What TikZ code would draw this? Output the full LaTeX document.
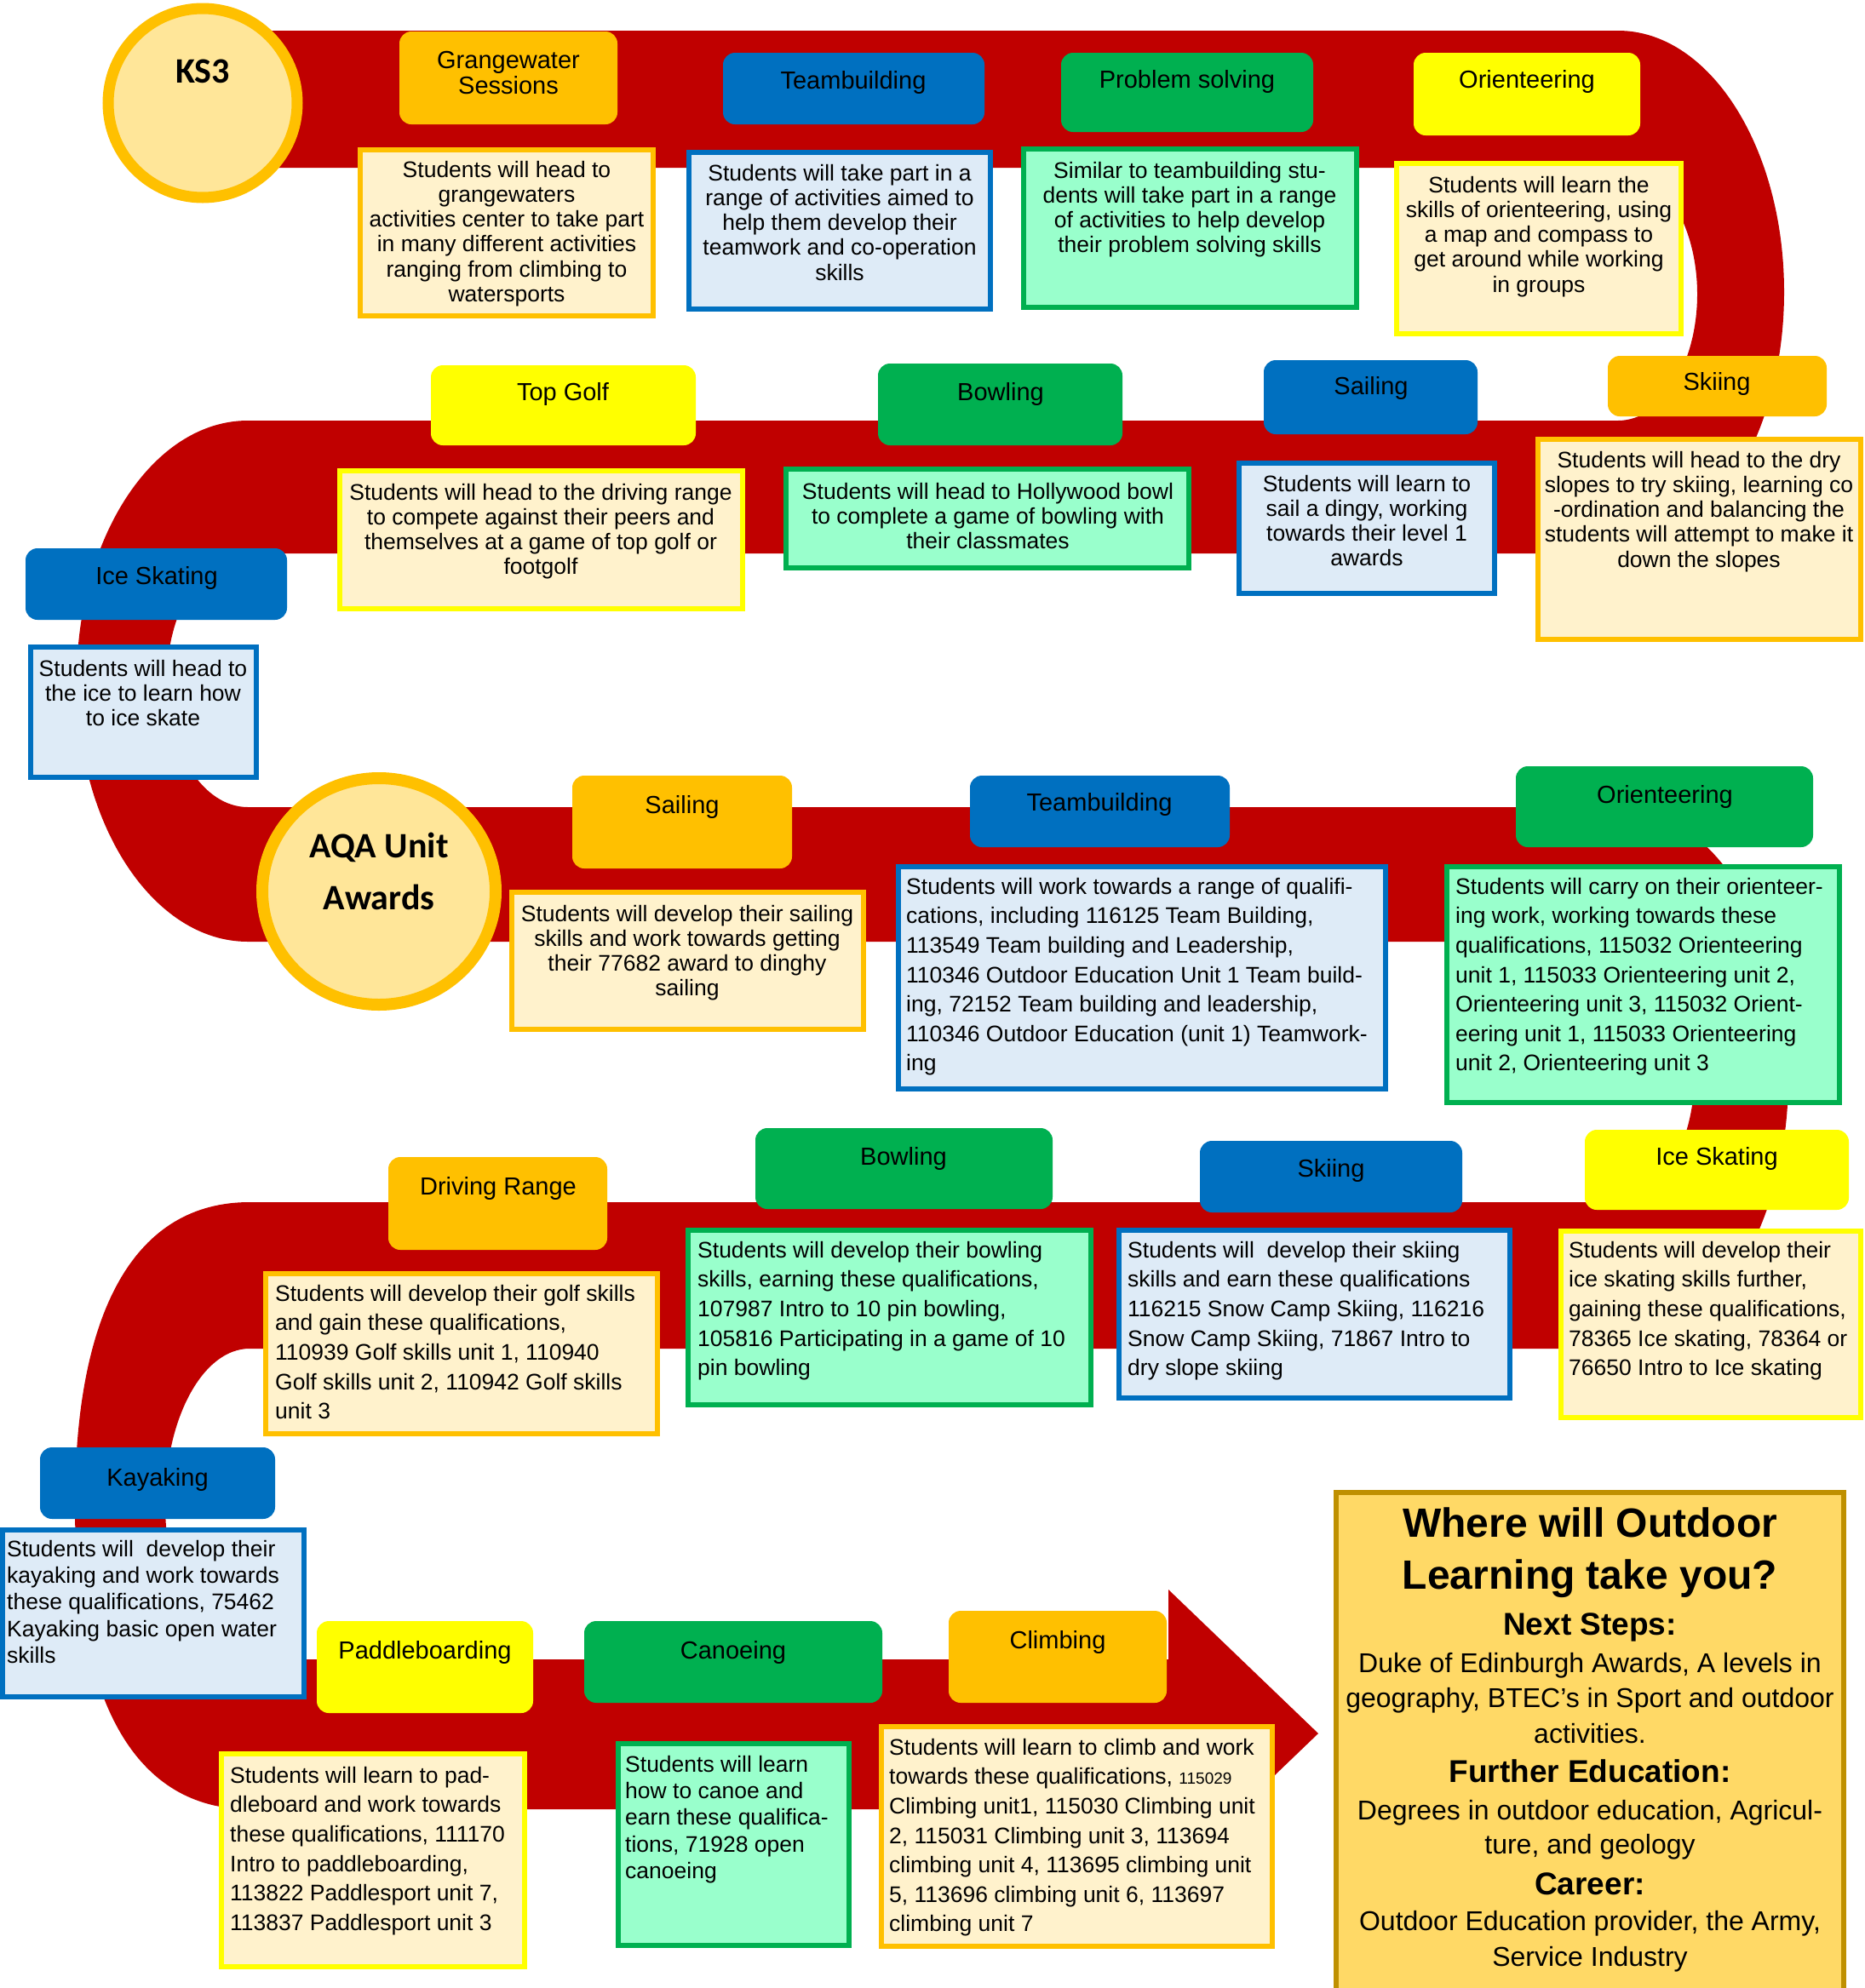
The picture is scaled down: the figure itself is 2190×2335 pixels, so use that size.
\documentclass[tikz,border=0pt]{standalone}
\usepackage{fontspec}
\setmainfont{Liberation Sans}
\newfontfamily\calib{Carlito}
\definecolor{road}{HTML}{C00000}
\definecolor{cOr}{HTML}{FFC000}
\definecolor{cBl}{HTML}{0070C0}
\definecolor{cGr}{HTML}{00B050}
\definecolor{cYe}{HTML}{FFFF00}
\definecolor{lOr}{HTML}{FFF2CC}
\definecolor{lBl}{HTML}{DEEBF7}
\definecolor{lGr}{HTML}{99FFCC}
\definecolor{circ}{HTML}{FFE699}
\definecolor{finF}{HTML}{FFD966}
\definecolor{finB}{HTML}{BF9000}
\newcommand\fl{\rule{0pt}{22pt}}
\newcommand\hl{\rule{0pt}{24pt}}
\begin{document}
\begin{tikzpicture}[x=1pt,y=-1pt,
  hdr/.style={rounded corners=14pt},
  dbox/.style={line width=6pt},
  htext/.style={anchor=north, inner sep=0pt, align=center, font=\fontsize{29}{30}\selectfont},
  ctext/.style={anchor=north, inner sep=0pt, align=center, font=\fontsize{26.5}{29.2}\selectfont},
  ltext/.style={anchor=north west, inner sep=0pt, align=left, font=\fontsize{26.5}{34.6}\selectfont},
  ltextb/.style={anchor=north west, inner sep=0pt, align=left, font=\fontsize{26.5}{31.3}\selectfont},
  fbig/.style={anchor=base, inner sep=0pt, font=\fontsize{48}{60}\selectfont\bfseries},
  fmid/.style={anchor=base, inner sep=0pt, font=\fontsize{37}{44}\selectfont\bfseries},
  fnorm/.style={anchor=base, inner sep=0pt, font=\fontsize{32}{40}\selectfont},
  circt/.style={anchor=base, inner sep=0pt, font=\fontsize{42}{50}\selectfont\calib\bfseries},
]
\useasboundingbox (0,0) rectangle (2190,2335);
\fill[white] (0,0) rectangle (2190,2335);
\clip (0,0) rectangle (2190,2335);

% ---------------- road ----------------
\fill[road] (238,36) -- (1900,36) arc[start angle=90,end angle=-90,x radius=195pt,y radius=307pt]
  -- (1900,494) arc[start angle=-90,end angle=90,x radius=93pt,y radius=148.5pt] -- (238,197) -- cycle;
\fill[road] (1900,494) -- (291,494) arc[start angle=90,end angle=270,x radius=201pt,y radius=306pt]
  -- (1900,1106) -- (1900,948) -- (291,948) arc[start angle=270,end angle=90,x radius=95pt,y radius=149pt]
  -- (1900,650) -- cycle;
\fill[road] (1900,948) arc[start angle=90,end angle=-90,x radius=200pt,y radius=318pt]
  -- (293,1584) -- (293,1412) -- (1900,1412) arc[start angle=-90,end angle=90,x radius=90pt,y radius=153pt] -- cycle;
\fill[road] (293,1412) .. controls (160,1412) and (88,1536.5) .. (88,1768.5)
  .. controls (88,2000.5) and (160,2125) .. (293,2125)
  -- (1372,2125) -- (1372,2205) -- (1548,2036) -- (1372,1867) -- (1372,1949)
  -- (293,1949) arc[start angle=270,end angle=90,x radius=99pt,y radius=182.5pt] -- cycle;

% ---------------- circles ----------------
\draw[line width=13pt, draw=cOr, fill=circ] (238,121) circle[radius=111pt];
\node[circt] (ks3) at (238,97) {KS3};
\draw[line width=14pt, draw=cOr, fill=circ] (445,1047) ellipse[x radius=137pt, y radius=133pt];
\node[circt] (aqa1) at (445,1007) {AQA Unit};
\node[circt] (aqa2) at (445,1068) {Awards};

% ---------------- row 1 ----------------
\fill[cOr,hdr] (469,37) rectangle (725,146);
\node[htext] (h1) at (597,56) {\hl Grangewater\\Sessions};
\draw[dbox,draw=cOr,fill=lOr] (423,176) rectangle (767,371);
\node[ctext] (d1) at (595,186) {\fl Students will head to\\grangewaters\\activities center to take part\\in many different activities\\ranging from climbing to\\watersports};

\fill[cBl,hdr] (849,62) rectangle (1156,146);
\node[htext] (h2) at (1002,80) {\hl Teambuilding};
\draw[dbox,draw=cBl,fill=lBl] (809,179) rectangle (1163,363);
\node[ctext] (d2) at (986,190) {\fl Students will take part in a\\range of activities aimed to\\help them develop their\\teamwork and co-operation\\skills};

\fill[cGr,hdr] (1246,62) rectangle (1542,155);
\node[htext] (h3) at (1394,79) {\hl Problem solving};
\draw[dbox,draw=cGr,fill=lGr] (1202,175) rectangle (1593,361);
\node[ctext] (d3) at (1397,187) {\fl Similar to teambuilding stu-\\dents will take part in a range\\of activities to help develop\\their problem solving skills};

\fill[cYe,hdr] (1660,62) rectangle (1926,159);
\node[htext] (h4) at (1793,79) {\hl Orienteering};
\draw[dbox,draw=cYe,fill=lOr] (1640,192) rectangle (1974,392);
\node[ctext] (d4) at (1807,204) {\fl Students will learn the\\skills of orienteering, using\\a map and compass to\\get around while working\\in groups};

% ---------------- row 2 ----------------
\fill[cYe,hdr] (506,429) rectangle (817,523);
\node[htext] (h5) at (661,446) {\hl Top Golf};
\draw[dbox,draw=cYe,fill=lOr] (399,553) rectangle (872,715);
\node[ctext] (d5) at (635,565) {\fl Students will head to the driving range\\to compete against their peers and\\themselves at a game of top golf or\\footgolf};

\fill[cGr,hdr] (1031,427) rectangle (1318,523);
\node[htext] (h6) at (1175,446) {\hl Bowling};
\draw[dbox,draw=cGr,fill=lGr] (923,551) rectangle (1396,667);
\node[ctext] (d6) at (1160,564) {\fl Students will head to Hollywood bowl\\to complete a game of bowling with\\their classmates};

\fill[cBl,hdr] (1484,423) rectangle (1735,510);
\node[htext] (h7) at (1610,439) {\hl Sailing};
\draw[dbox,draw=cBl,fill=lBl] (1455,544) rectangle (1755,697);
\node[ctext] (d7) at (1605,555) {\fl Students will learn to\\sail a dingy, working\\towards their level 1\\awards};

\fill[cOr,hdr] (1888,418) rectangle (2145,489);
\node[htext] (h8) at (2016,434) {\hl Skiing};
\draw[dbox,draw=cOr,fill=lOr] (1806,516) rectangle (2185,751);
\node[ctext] (d8) at (1995,527) {\fl Students will head to the dry\\slopes to try skiing, learning co\\-ordination and balancing the\\students will attempt to make it\\down the slopes};

\fill[cBl,hdr] (30,644) rectangle (337,728);
\node[htext] (h9) at (184,662) {\hl Ice Skating};
\draw[dbox,draw=cBl,fill=lBl] (36,760) rectangle (301,913);
\node[ctext] (d9) at (168,772) {\fl Students will head to\\the ice to learn how\\to ice skate};

% ---------------- row 3 ----------------
\fill[cOr,hdr] (672,911) rectangle (930,1020);
\node[htext] (h10) at (801,931) {\hl Sailing};
\draw[dbox,draw=cOr,fill=lOr] (601,1048) rectangle (1014,1209);
\node[ctext] (d10) at (807,1060) {\fl Students will develop their sailing\\skills and work towards getting\\their 77682 award to dinghy\\sailing};

\fill[cBl,hdr] (1139,911) rectangle (1444,995);
\node[htext] (h11) at (1291,928) {\hl Teambuilding};
\draw[dbox,draw=cBl,fill=lBl] (1055,1018) rectangle (1627,1279);
\node[ltext] (d11) at (1064,1028) {\fl Students will work towards a range of qualifi-\\cations, including 116125 Team Building,\\113549 Team building and Leadership,\\110346 Outdoor Education Unit 1 Team build-\\ing, 72152 Team building and leadership,\\110346 Outdoor Education (unit 1) Teamwork-\\ing};

\fill[cGr,hdr] (1780,900) rectangle (2129,995);
\node[htext] (h12) at (1955,919) {\hl Orienteering};
\draw[dbox,draw=cGr,fill=lGr] (1699,1018) rectangle (2160,1295);
\node[ltext] (d12) at (1709,1028) {\fl Students will carry on their orienteer-\\ing work, working towards these\\qualifications, 115032 Orienteering\\unit 1, 115033 Orienteering unit 2,\\Orienteering unit 3, 115032 Orient-\\eering unit 1, 115033 Orienteering\\unit 2, Orienteering unit 3};

% ---------------- row 4 ----------------
\fill[cOr,hdr] (456,1359) rectangle (713,1468);
\node[htext] (h13) at (585,1379) {\hl Driving Range};
\draw[dbox,draw=cOr,fill=lOr] (312,1496) rectangle (772,1684);
\node[ltext] (d13) at (323,1506) {\fl Students will develop their golf skills\\and gain these qualifications,\\110939 Golf skills unit 1, 110940\\Golf skills unit 2, 110942 Golf skills\\unit 3};

\fill[cGr,hdr] (887,1325) rectangle (1236,1420);
\node[htext] (h14) at (1061,1344) {\hl Bowling};
\draw[dbox,draw=cGr,fill=lGr] (808,1445) rectangle (1281,1650);
\node[ltext] (d14) at (819,1455) {\fl Students will develop their bowling\\skills, earning these qualifications,\\107987 Intro to 10 pin bowling,\\105816 Participating in a game of 10\\pin bowling};

\fill[cBl,hdr] (1409,1340) rectangle (1717,1424);
\node[htext] (h15) at (1563,1358) {\hl Skiing};
\draw[dbox,draw=cBl,fill=lBl] (1314,1445) rectangle (1773,1642);
\node[ltext] (d15) at (1324,1455) {\fl Students will~ develop their skiing\\skills and earn these qualifications\\116215 Snow Camp Skiing, 116216\\Snow Camp Skiing, 71867 Intro to\\dry slope skiing};

\fill[cYe,hdr] (1861,1327) rectangle (2171,1421);
\node[htext] (h16) at (2016,1344) {\hl Ice Skating};
\draw[dbox,draw=cYe,fill=lOr] (1833,1446) rectangle (2185,1665);
\node[ltext] (d16) at (1842,1455) {\fl Students will develop their\\ice skating skills further,\\gaining these qualifications,\\78365 Ice skating, 78364 or\\76650 Intro to Ice skating};

% ---------------- row 5 ----------------
\fill[cBl,hdr] (47,1700) rectangle (323,1784);
\node[htext] (h17) at (185,1721) {\hl Kayaking};
\draw[dbox,draw=cBl,fill=lBl] (3,1797) rectangle (357,1993);
\node[ltextb] (d17) at (8,1806) {\fl Students will~ develop their\\kayaking and work towards\\these qualifications, 75462\\Kayaking basic open water\\skills};

\fill[cYe,hdr] (372,1904) rectangle (626,2012);
\node[htext] (h18) at (499,1924) {\hl Paddleboarding};
\draw[dbox,draw=cYe,fill=lOr] (260,2060) rectangle (616,2310);
\node[ltext] (d18) at (270,2072) {\fl Students will learn to pad-\\dleboard and work towards\\these qualifications, 111170\\Intro to paddleboarding,\\113822 Paddlesport unit 7,\\113837 Paddlesport unit 3};

\fill[cGr,hdr] (686,1904) rectangle (1036,2000);
\node[htext] (h19) at (861,1924) {\hl Canoeing};
\draw[dbox,draw=cGr,fill=lGr] (726,2048) rectangle (997,2285);
\node[ltextb] (d19) at (734,2059) {\fl Students will learn\\how to canoe and\\earn these qualifica-\\tions, 71928 open\\canoeing};

\fill[cOr,hdr] (1114,1892) rectangle (1370,2000);
\node[htext] (h20) at (1242,1912) {\hl Climbing};
\draw[dbox,draw=cOr,fill=lOr] (1035,2028) rectangle (1494,2286);
\node[ltext] (d20) at (1044,2039) {\fl Students will learn to climb and work\\towards these qualifications, {\fontsize{19}{34.6}\selectfont 115029}\\Climbing unit1, 115030 Climbing unit\\2, 115031 Climbing unit 3, 113694\\climbing unit 4, 113695 climbing unit\\5, 113696 climbing unit 6, 113697\\climbing unit 7};

% ---------------- final box ----------------
\draw[line width=6pt, draw=finB, fill=finF] (1569,1753) rectangle (2165,2360);
\node[fbig] (f1) at (1867,1805) {Where will Outdoor};
\node[fbig] (f2) at (1867,1866) {Learning take you?};
\node[fmid] (f3) at (1867,1920) {Next Steps:};
\node[fnorm] (f4) at (1867,1964) {Duke of Edinburgh Awards, A levels in};
\node[fnorm] (f5) at (1867,2005) {geography, BTEC’s in Sport and outdoor};
\node[fnorm] (f6) at (1867,2047) {activities.};
\node[fmid] (f7) at (1867,2093) {Further Education:};
\node[fnorm] (f8) at (1867,2137) {Degrees in outdoor education, Agricul-};
\node[fnorm] (f9) at (1867,2177) {ture, and geology};
\node[fmid] (f10) at (1867,2225) {Career:};
\node[fnorm] (f11) at (1867,2267) {Outdoor Education provider, the Army,};
\node[fnorm] (f12) at (1867,2309) {Service Industry};
\end{tikzpicture}
\end{document}
